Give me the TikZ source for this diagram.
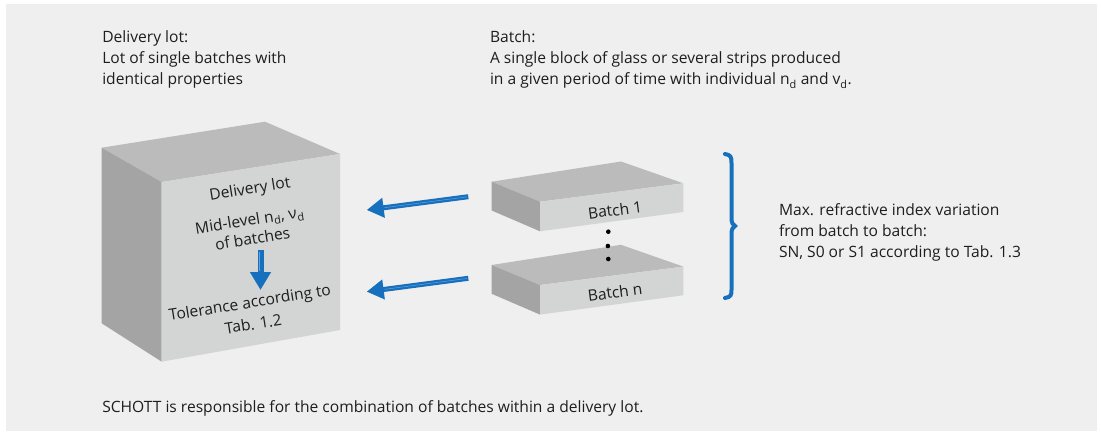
\documentclass[tikz,border=0pt]{standalone}
\usepackage{fontspec}
\setmainfont{Open Sans}
\usetikzlibrary{arrows.meta,calc}
\definecolor{bg}{HTML}{EFEFEF}
\definecolor{topc}{HTML}{BBBBBB}
\definecolor{leftc}{HTML}{A4A4A4}
\definecolor{frontc}{HTML}{D3D4D4}
\definecolor{arrblue}{HTML}{1670BE}
\definecolor{txt}{HTML}{1E1E1E}
\begin{document}
\begin{tikzpicture}[x=1pt,y=-1pt,
  every node/.style={inner sep=0pt, outer sep=0pt, text=txt, font=\fontsize{15.6}{21.3}\selectfont},
  desc/.style={anchor=north west, align=left},
  facetext/.style={align=center},
  topface/.style={fill=topc},
  leftface/.style={fill=leftc},
  frontface/.style={fill=frontc},
  fatarrow/.style={draw=arrblue, line width=5pt, -{Triangle[length=17pt,width=19pt]}},
  downarrow/.style={draw=arrblue, line width=6pt, -{Triangle[length=18pt,width=20pt]}},
  shine/.style={draw=arrblue!65!white, line width=0.5pt},
  bracestyle/.style={draw=arrblue, line width=4pt, line cap=round},
  dot/.style={fill=black}
]
\useasboundingbox (0,0) rectangle (1101,433);
\fill[white] (0,0) rectangle (1101,433);
\fill[bg] (6,4) rectangle (1097,431);

% delivery lot cube
\fill[topface] (101.7,147.7) -- (265,121.7) -- (340,154) -- (161.7,182) -- cycle;
\fill[leftface] (101.7,147.7) -- (161.7,182) -- (161.7,361.7) -- (101.7,323.3) -- cycle;
\fill[frontface] (161.7,182) -- (340,154) -- (340,330) -- (161.7,361.7) -- cycle;

% batch slabs
\foreach \dy in {0,83.3}{
  \begin{scope}[shift={(0,\dy)}]
    \fill[topface] (491.7,181.7) -- (621,161.5) -- (683.3,183.3) -- (540,201.7) -- cycle;
    \fill[leftface] (491.7,181.7) -- (540,201.7) -- (540,231.3) -- (491.7,210.5) -- cycle;
    \fill[frontface] (540,201.7) -- (683.3,183.3) -- (683.3,212) -- (540,231.3) -- cycle;
  \end{scope}
}

% dots
\fill[dot] (608.3,231.7) circle (2.3);
\fill[dot] (607.9,246) circle (2.3);
\fill[dot] (608.3,259) circle (2.3);

% texts in cube
\node[facetext, rotate=9.1] (lot) at (250,190) {Delivery lot};
\node[facetext, rotate=9.1] (mid) at (251,229) {Mid-level n\textsubscript{d}, ν\textsubscript{d}\\[-2.3pt]of batches};
\node[facetext, rotate=9.1] (tol) at (251.5,313) {Tolerance according to\\[0.7pt]Tab. 1.2};

% batch labels
\node[rotate=7.3] (b1) at (615,210) {Batch 1};
\node[rotate=7.3] (bn) at (615,292) {Batch n};

% arrows
\coordinate (a1s) at (468.3,196.7);
\coordinate (a1e) at (366.7,210);
\coordinate (a2s) at (468.3,278.3);
\coordinate (a2e) at (366.7,291.7);
\coordinate (ds) at (260.5,250);
\coordinate (de) at (260.5,290);
\draw[fatarrow] (a1s) -- (a1e);
\draw[fatarrow] (a2s) -- (a2e);
\draw[downarrow] (ds) -- (de);
\draw[shine] ($(a1s)!1.5pt!(a1e)$) -- ($(a1e)!18pt!(a1s)$);
\draw[shine] ($(a2s)!1.5pt!(a2e)$) -- ($(a2e)!18pt!(a2s)$);
\draw[shine] ($(ds)!1.5pt!(de)+(-1,0)$) -- ($(de)!19pt!(ds)+(-1,0)$);

% brace
\draw[bracestyle] (725,154) .. controls (731,155) and (731.5,157) .. (731.5,163)
  -- (731.5,218) .. controls (731.5,223) and (733,225) .. (735,226)
  .. controls (733,227) and (731.5,229) .. (731.5,234)
  -- (731.5,290) .. controls (731.5,295) and (731,297) .. (725,298);

% descriptive texts
\node[desc] (dlhead) at (102.3,30.5) {Delivery lot:\\Lot of single batches with\\identical properties};
\node[desc] (bhead) at (490,30.5) {Batch:\\A single block of glass or several strips produced\\in a given period of time with individual n\textsubscript{d} and v\textsubscript{d}.};
\node[desc] (maxvar) at (779,203.2) {Max. refractive index variation\\from batch to batch:\\SN, S0 or S1 according to Tab. 1.3};
\node[desc] (schott) at (102.3,400.2) {SCHOTT is responsible for the combination of batches within a delivery lot.};
\end{tikzpicture}
\end{document}
